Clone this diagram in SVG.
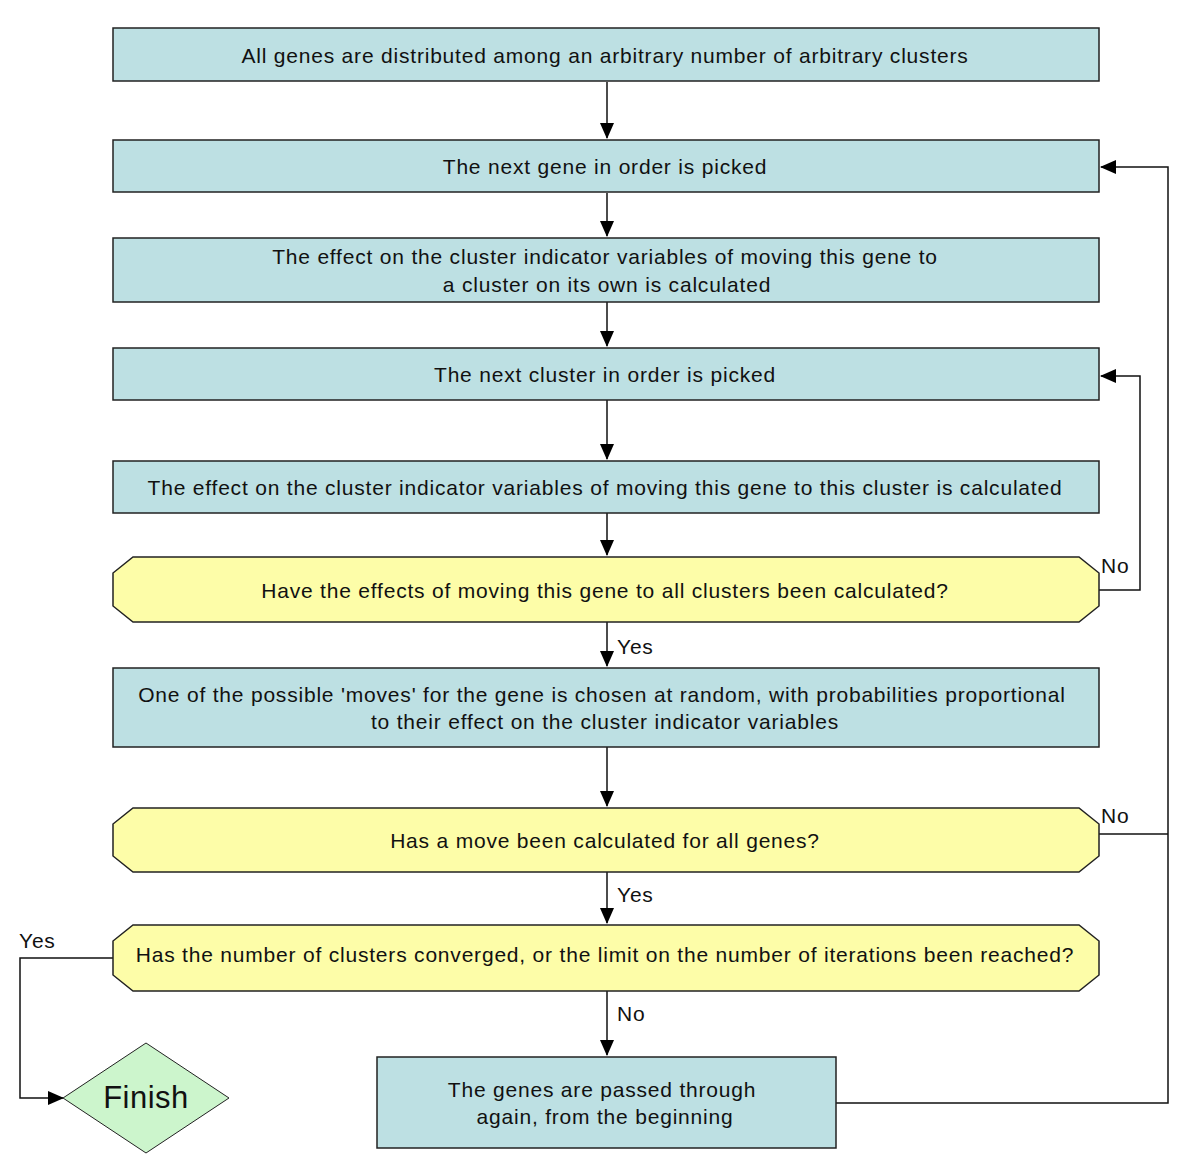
<svg xmlns="http://www.w3.org/2000/svg" width="1200" height="1169" viewBox="0 0 1200 1169">
<style>
.box{fill:#bde0e3;stroke:#222;stroke-width:1.5}
.dec{fill:#fdfda8;stroke:#222;stroke-width:1.5}
.fin{fill:#ccf5cc;stroke:#222;stroke-width:1}
text{font-family:"Liberation Sans",Arial,sans-serif;font-size:21px;letter-spacing:0.8px;fill:#111;text-anchor:middle;dominant-baseline:central}
.lbl{text-anchor:start}
.big{font-size:31px;letter-spacing:0.5px}
.ln{fill:none;stroke:#111;stroke-width:1.5}
</style>
<defs>
<marker id="ah" markerWidth="16" markerHeight="14" refX="15" refY="7" orient="auto" markerUnits="userSpaceOnUse">
<path d="M0,0 L16,7 L0,14 Z" fill="#000"/>
</marker>
</defs>
<rect width="1200" height="1169" fill="#fff"/>
<g id="connectors">
<path class="ln" d="M607,82 V138" marker-end="url(#ah)"/>
<path class="ln" d="M607,193 V236" marker-end="url(#ah)"/>
<path class="ln" d="M607,302 V346" marker-end="url(#ah)"/>
<path class="ln" d="M607,400 V459" marker-end="url(#ah)"/>
<path class="ln" d="M607,513 V555" marker-end="url(#ah)"/>
<path class="ln" d="M607,622 V666" marker-end="url(#ah)"/>
<path class="ln" d="M607,747 V806" marker-end="url(#ah)"/>
<path class="ln" d="M607,872 V923" marker-end="url(#ah)"/>
<path class="ln" d="M607,991 V1055" marker-end="url(#ah)"/>
<path class="ln" d="M1099,590 H1140 V376 H1101" marker-end="url(#ah)"/>
<path class="ln" d="M836,1103 H1168 V167 H1101" marker-end="url(#ah)"/>
<path class="ln" d="M1099,834 H1168"/>
<path class="ln" d="M113,958 H20 V1098 H63" marker-end="url(#ah)"/>
<text class="lbl" x="617" y="646">Yes</text>
<text class="lbl" x="617" y="894">Yes</text>
<text class="lbl" x="19" y="940">Yes</text>
<text class="lbl" x="1101" y="565">No</text>
<text class="lbl" x="1101" y="815">No</text>
<text class="lbl" x="617" y="1013">No</text>
</g>
<g id="n1"><rect class="box" x="113" y="28" width="986" height="53"/><text x="605" y="55">All genes are distributed among an arbitrary number of arbitrary clusters</text></g>
<g id="n2"><rect class="box" x="113" y="140" width="986" height="52"/><text x="605" y="166">The next gene in order is picked</text></g>
<g id="n3"><rect class="box" x="113" y="238" width="986" height="64"/><text x="605" y="256">The effect on the cluster indicator variables of moving this gene to</text><text x="607" y="284">a cluster on its own is calculated</text></g>
<g id="n4"><rect class="box" x="113" y="348" width="986" height="52"/><text x="605" y="374">The next cluster in order is picked</text></g>
<g id="n5"><rect class="box" x="113" y="461" width="986" height="52"/><text x="605" y="487">The effect on the cluster indicator variables of moving this gene to this cluster is calculated</text></g>
<g id="n6"><polygon class="dec" points="133,557 1079,557 1099,573 1099,606 1079,622 133,622 113,606 113,573"/><text x="605" y="590">Have the effects of moving this gene to all clusters been calculated?</text></g>
<g id="n7"><rect class="box" x="113" y="668" width="986" height="79"/><text x="602" y="694">One of the possible 'moves' for the gene is chosen at random, with probabilities proportional</text><text x="605" y="721">to their effect on the cluster indicator variables</text></g>
<g id="n8"><polygon class="dec" points="133,808 1079,808 1099,824 1099,856 1079,872 133,872 113,856 113,824"/><text x="605" y="840">Has a move been calculated for all genes?</text></g>
<g id="n9"><polygon class="dec" points="133,925 1079,925 1099,941 1099,975 1079,991 133,991 113,975 113,941"/><text x="605" y="954">Has the number of clusters converged, or the limit on the number of iterations been reached?</text></g>
<g id="n10"><rect class="box" x="377" y="1057" width="459" height="91"/><text x="602" y="1089">The genes are passed through</text><text x="605" y="1116">again, from the beginning</text></g>
<g id="n11"><polygon class="fin" points="146,1043 229,1098 146,1153 63,1098"/><text class="big" x="146" y="1097">Finish</text></g>
</svg>
